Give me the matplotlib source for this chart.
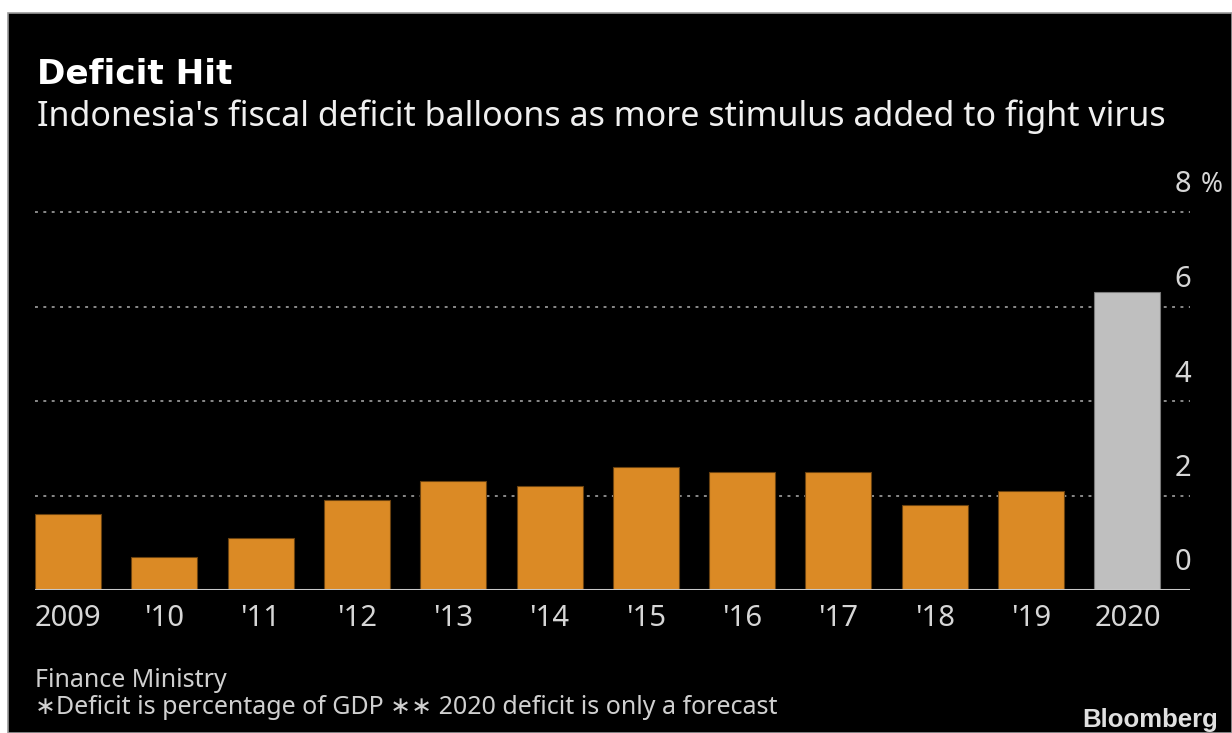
import numpy as np
import matplotlib
matplotlib.use("Agg")
import matplotlib.pyplot as plt
from matplotlib.patches import Rectangle

# data (deficit, % of GDP)
years = ["2009", "'10", "'11", "'12", "'13", "'14", "'15", "'16", "'17", "'18", "'19", "2020"]
deficit = [1.6, 0.7, 1.1, 1.9, 2.3, 2.2, 2.6, 2.5, 2.5, 1.8, 2.1, 6.3]
is_forecast = [False] * 11 + [True]
yticks = [0, 2, 4, 6, 8]

title = "Deficit Hit"
subtitle = "Indonesia's fiscal deficit balloons as more stimulus added to fight virus"
source = "Finance Ministry"
note = "\u2217Deficit is percentage of GDP \u2217\u2217 2020 deficit is only a forecast"

W, H = 1232, 733
plt.rcParams['font.family'] = ['Noto Sans', 'DejaVu Sans']

fig = plt.figure(figsize=(W / 100, H / 100), dpi=100)
fig.patch.set_facecolor("white")

# black panel with thin grey border (white margin on top and left)
fig.patches.append(Rectangle((8 / W, 0), 1 - 8 / W, 1 - 13 / H, transform=fig.transFigure,
                             facecolor="black", edgecolor="#9a9a9a", linewidth=1.2, zorder=-10))

ax = fig.add_axes([35 / W, (H - 590) / H, 1155 / W, 378 / H])
ax.set_facecolor("black")

x = np.arange(len(years))
colors = ["#bfbfbf" if f else "#db8a25" for f in is_forecast]
edges = ["#7a7a7a" if f else "#6b4210" for f in is_forecast]
ax.bar(x, deficit, width=0.685, color=colors, edgecolor=edges, linewidth=0.8, zorder=3)

ax.set_xlim(-0.343, 11.65)
ax.set_ylim(0, 8)

# dotted gridlines
for v in yticks[1:]:
    ax.axhline(v, color="#8a8a8a", linestyle=(0, (1.5, 2.8)), linewidth=1.4, zorder=1, clip_on=False)
ax.axhline(0, color="#c8c8c8", linewidth=2.2, zorder=4)

for s in ax.spines.values():
    s.set_visible(False)

ax.set_xticks(x)
ax.set_xticklabels(years, color="#d6d6d6", fontsize=21)
ax.tick_params(axis="x", length=0, pad=10)
ax.set_yticks([])

# y labels sit above their gridlines on the right
for v in yticks:
    ax.annotate(str(v), xy=(1, v), xycoords=("axes fraction", "data"),
                xytext=(-7, 27), textcoords="offset pixels",
                ha="center", va="center", color="#d6d6d6", fontsize=21)
ax.annotate("%", xy=(1, yticks[-1]), xycoords=("axes fraction", "data"),
            xytext=(22, 27), textcoords="offset pixels",
            ha="center", va="center", color="#d6d6d6", fontsize=19)

fig.text(37 / W, 1 - 84 / H, title, color="white", fontsize=24.7, fontweight="bold",
         family="DejaVu Sans", va="baseline")
fig.text(37 / W, 1 - 126 / H, subtitle, color="#f0f0f0", fontsize=24.5, va="baseline")
fig.text(35 / W, 1 - 687 / H, source, color="#d0d0d0", fontsize=18, va="baseline")
fig.text(35 / W, 1 - 714 / H, note, color="#d0d0d0", fontsize=18, va="baseline")
fig.text(1218 / W, 1 - 727 / H, "Bloomberg", color="#e0e0e0", fontsize=18.5,
         fontweight="bold", family="Liberation Sans", ha="right", va="baseline")

fig.savefig("out.png", dpi=100, facecolor=fig.get_facecolor())
